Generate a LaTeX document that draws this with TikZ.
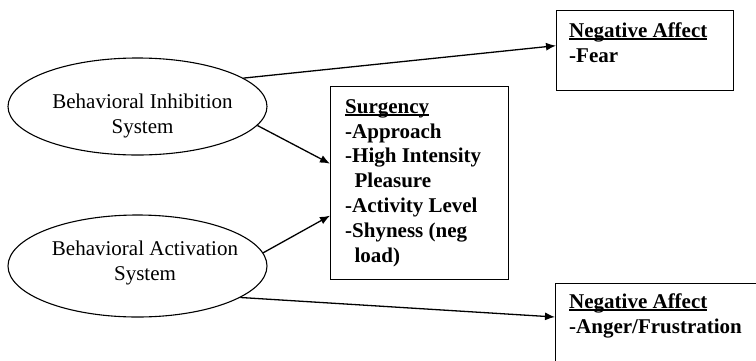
\documentclass[tikz,border=0pt]{standalone}
\usepackage{fontspec}
\setmainfont{Liberation Serif}
\usetikzlibrary{positioning, calc, arrows.meta, shapes.geometric}
\newcommand{\ulword}[1]{\setbox0\hbox{#1}\rlap{\rule[-2.3pt]{\wd0}{1.1pt}}#1}
\tikzset{
    sysnode/.style={ellipse, draw, line width=1.1pt, minimum width=259pt, inner sep=0pt},
    systext/.style={align=center, anchor=base, font=\fontsize{21}{24.5}\selectfont, inner sep=0pt},
    boxnode/.style={rectangle, draw, line width=1.3pt, anchor=north west, inner sep=0pt},
    boxtext/.style={align=left, anchor=base west, font=\bfseries\fontsize{21}{24.8}\selectfont, inner sep=0pt},
    arrow/.style={-{Latex[length=10pt, width=8pt]}, line width=1.3pt},
}

\begin{document}
\begin{tikzpicture}[x=1pt, y=-1pt]
            \useasboundingbox (0,0) rectangle (756,360);

            % Ellipsen (Basis = letzte Zeile)
            \node[sysnode, minimum height=97pt] (bis) at (137.5,106.5) {};
            \node[systext] (bistext) at (142.5,133) {Behavioral Inhibition\\System};
            \node[sysnode, minimum height=102pt] (bas) at (137.5,266) {};
            \node[systext] (bastext) at (145,280) {Behavioral Activation\\System};

            % Kaesten
            \node[boxnode, minimum width=177pt, minimum height=80pt] (fear) at (556,10) {};
            \node[boxtext] (feartext) at (569,62) {\ulword{Negative Affect}\\-Fear};
            \node[boxnode, minimum width=178pt, minimum height=193pt] (surg) at (330,86) {};
            \node[boxtext] (surgtext) at (345,262) {\ulword{Surgency}\\-Approach\\-High Intensity\\\hspace*{0.45em}Pleasure\\-Activity Level\\-Shyness (neg\\\hspace*{0.45em}load)};
            \node[boxnode, minimum width=250pt, minimum height=100pt] (anger) at (555,283) {};
            \node[boxtext] (angertext) at (569,333) {\ulword{Negative Affect}\\-Anger/Frustration};

            % Pfeile
            \draw[arrow] (bis.15) -- ([yshift=5pt]fear.west);
            \draw[arrow] (bis.-9) -- ([yshift=19.5pt]surg.west);
            \draw[arrow] (bas.6) -- ([yshift=-32.5pt]surg.west);
            \draw[arrow] (bas.-17) -- ([yshift=-34pt]anger.north west);
        \end{tikzpicture}
\end{document}
